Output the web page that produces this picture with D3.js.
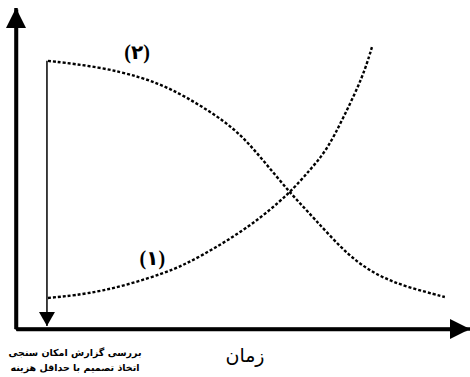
<html>
<head>
<meta charset="utf-8">
<script src="https://d3js.org/d3.v7.min.js"></script>
<style>
	body { margin: 0; background: #fff; }
	svg { display: block; }
</style>
</head>
<body>
<script>
	// time on x, both 0..100
	var curve1X = [7.1, 18.7, 33.6, 40.9, 52, 60.9, 65.3, 69.1, 72.7, 77.1, 79.1];
	var curve1Y = [9.7, 11.3, 17.5, 22.5, 31.9, 42.5, 49.7, 55.9, 65.9, 78.8, 88.1];
	var curve2X = [7.1, 18.7, 27.6, 34.2, 41.6, 49.1, 54.9, 60.9, 66, 74.2, 80.9, 86.9, 95.3];
	var curve2Y = [83.8, 81.9, 78.8, 75.3, 69.4, 62.2, 52.8, 42.5, 35, 22.2, 16.3, 13.1, 10];
	var labels = ["(۱)", "(۲)"];
	var xTitle = "زمان";
	var note = ["بررسی گزارش امکان سنجی", "اتخاذ تصمیم با حداقل هزینه"];

	var width = 470, height = 377;
	var svg = d3.select("body").append("svg")
		.attr("width", width)
		.attr("height", height);

	var x = d3.scaleLinear().domain([0, 100]).range([16, 466]);
	var y = d3.scaleLinear().domain([0, 100]).range([329, 9]);

	var defs = svg.append("defs");
	defs.append("marker")
		.attr("id", "big")
		.attr("viewBox", "0 0 20 20")
		.attr("refX", 20).attr("refY", 10)
		.attr("markerWidth", 20).attr("markerHeight", 20)
		.attr("markerUnits", "userSpaceOnUse")
		.attr("orient", "auto")
		.append("path").attr("d", "M0,0 L20,10 L0,20 Z").attr("fill", "#000");
	defs.append("marker")
		.attr("id", "small")
		.attr("viewBox", "0 0 14 16")
		.attr("refX", 14).attr("refY", 8)
		.attr("markerWidth", 14).attr("markerHeight", 16)
		.attr("markerUnits", "userSpaceOnUse")
		.attr("orient", "auto")
		.append("path").attr("d", "M0,0 L14,8 L0,16 Z").attr("fill", "#000");

	// axes, no ticks
	svg.append("g")
		.attr("transform", "translate(0," + y(0) + ")")
		.call(d3.axisBottom(x).ticks(0).tickSizeOuter(0));
	svg.append("g")
		.attr("transform", "translate(" + x(0) + ",0)")
		.call(d3.axisLeft(y).ticks(0).tickSizeOuter(0));
	svg.selectAll(".domain").attr("stroke", "#000").attr("stroke-width", 3.5);

	svg.append("line")
		.attr("x1", x(0)).attr("y1", y(0)).attr("x2", x(100) + 4).attr("y2", y(0))
		.attr("stroke", "#000").attr("stroke-width", 3.5)
		.attr("marker-end", "url(#big)");
	svg.append("line")
		.attr("x1", x(0)).attr("y1", y(0)).attr("x2", x(0)).attr("y2", y(100) - 1)
		.attr("stroke", "#000").attr("stroke-width", 3.5)
		.attr("marker-end", "url(#big)");

	// decision line
	svg.append("line")
		.attr("x1", x(curve2X[0]) - 1).attr("y1", y(curve2Y[0]))
		.attr("x2", x(curve2X[0]) - 1).attr("y2", y(0) - 3)
		.attr("stroke", "#000").attr("stroke-width", 1.5)
		.attr("marker-end", "url(#small)");

	var line = d3.line()
		.x(function(d) { return x(d[0]); })
		.y(function(d) { return y(d[1]); })
		.curve(d3.curveBasis);

	[[curve1X, curve1Y], [curve2X, curve2Y]].forEach(function(c) {
		svg.append("path")
			.datum(d3.zip(c[0], c[1]))
			.attr("d", line)
			.attr("fill", "none")
			.attr("stroke", "#000")
			.attr("stroke-width", 2.4)
			.attr("stroke-dasharray", "3,2");
	});

	svg.append("text")
		.attr("x", x(30.3)).attr("y", y(20))
		.attr("text-anchor", "middle")
		.attr("font-family", "Liberation Serif, DejaVu Sans")
		.attr("font-weight", "bold")
		.attr("font-size", 20)
		.text(labels[0]);
	svg.append("text")
		.attr("x", x(26.9)).attr("y", y(84.5))
		.attr("text-anchor", "middle")
		.attr("font-family", "Liberation Serif, DejaVu Sans")
		.attr("font-weight", "bold")
		.attr("font-size", 20)
		.text(labels[1]);

	svg.append("text")
		.attr("x", 245).attr("y", 362)
		.attr("text-anchor", "middle")
		.attr("font-family", "DejaVu Sans")
		.attr("font-size", 19)
		.text(xTitle);

	svg.selectAll(".note").data(note).enter().append("text")
		.attr("class", "note")
		.attr("x", 75)
		.attr("y", function(d, i) { return 356 + i * 15; })
		.attr("text-anchor", "middle")
		.attr("font-family", "DejaVu Sans")
		.attr("font-weight", "bold")
		.attr("font-size", 9.5)
		.text(function(d) { return d; });
</script>
</body>
</html>
